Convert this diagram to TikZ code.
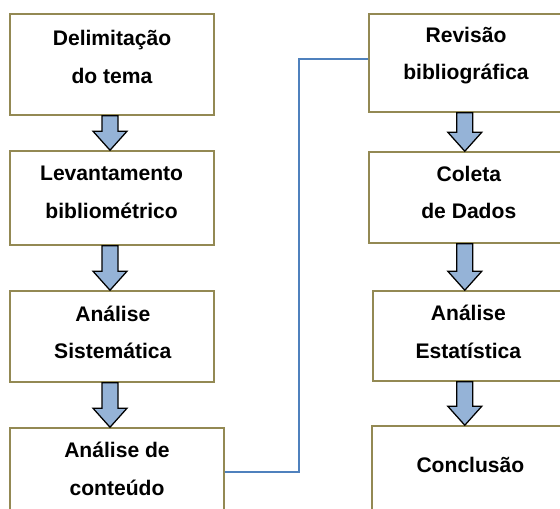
\documentclass[tikz,border=0pt]{standalone}
\usepackage{fontspec}
\setmainfont{Liberation Sans}
\usepackage{xcolor}
\usepackage{tikz}
\usetikzlibrary{calc}
\usetikzlibrary{positioning}

\definecolor{boxborder}{HTML}{938953}
\definecolor{arrowfill}{HTML}{95B3D7}
\definecolor{linkblue}{HTML}{4F81BD}

\newcommand{\bigarrow}[3]{%
	\path (#2.south -| #1,0) coordinate (s) (#3.north -| #1,0) coordinate (t);
	\draw[blockarrow] ($(s)+(-0.2,0)$) -- ($(t)+(-0.2,0.475)$) -- ($(t)+(-0.425,0.475)$) -- (t) -- ($(t)+(0.425,0.475)$) -- ($(t)+(0.2,0.475)$) -- ($(s)+(0.2,0)$) -- cycle;}

\begin{document}
\begin{tikzpicture}[
	box/.style={draw=boxborder,line width=1.1pt,fill=white,rectangle,inner sep=0pt},
	txt/.style={align=center,font=\fontsize{15pt}{26.7pt}\selectfont\bfseries},
	blockarrow/.style={draw=black,line width=0.9pt,fill=arrowfill,line join=miter},
	link/.style={draw=linkblue,line width=1.1pt}]
	\useasboundingbox (0,0) rectangle (14,-12.7);
	\clip (0,0) rectangle (14,-12.7);
	% left column
	\node[box,minimum width=5.1cm,minimum height=2.525cm] (delim) at (2.8,-1.6125) {};
	\node[txt] (delimtxt) at (2.8,-1.425) {Delimitação\\do tema};
	\node[box,minimum width=5.1cm,minimum height=2.35cm] (levant) at (2.8,-4.95) {};
	\node[txt] (levanttxt) at (2.79,-4.8125) {Levantamento\\bibliométrico};
	\node[box,minimum width=5.1cm,minimum height=2.275cm] (sist) at (2.8,-8.4125) {};
	\node[txt] (sisttxt) at (2.82,-8.3125) {Análise\\Sistemática};
	\node[box,minimum width=5.35cm,minimum height=3.3cm] (conteudo) at (2.925,-12.35) {};
	\node[txt] (conteudotxt) at (2.925,-11.725) {Análise de\\conteúdo};
	% right column
	\node[box,minimum width=4.9cm,minimum height=2.45cm] (revisao) at (11.675,-1.575) {};
	\node[txt] (revisaotxt) at (11.65,-1.3875) {Revisão\\bibliográfica};
	\node[box,minimum width=4.9cm,minimum height=2.275cm] (coleta) at (11.675,-4.9375) {};
	\node[txt] (coletatxt) at (11.72,-4.8125) {Coleta\\de Dados};
	\node[box,minimum width=4.8cm,minimum height=2.25cm] (estat) at (11.725,-8.4) {};
	\node[txt] (estattxt) at (11.71,-8.3) {Análise\\Estatística};
	\node[box,minimum width=4.825cm,minimum height=3.35cm] (concl) at (11.7125,-12.325) {};
	\node[txt] (concltxt) at (11.76,-11.625) {Conclusão};
	% arrows
	\bigarrow{2.75}{delim}{levant}
	\bigarrow{2.75}{levant}{sist}
	\bigarrow{2.75}{sist}{conteudo}
	\bigarrow{11.62}{revisao}{coleta}
	\bigarrow{11.62}{coleta}{estat}
	\bigarrow{11.62}{estat}{concl}
	% link between columns
	\draw[link] ([yshift=5.5mm]conteudo.east) -| (7.475,-1.475) -- ([yshift=1mm]revisao.west);
\end{tikzpicture}
\end{document}
